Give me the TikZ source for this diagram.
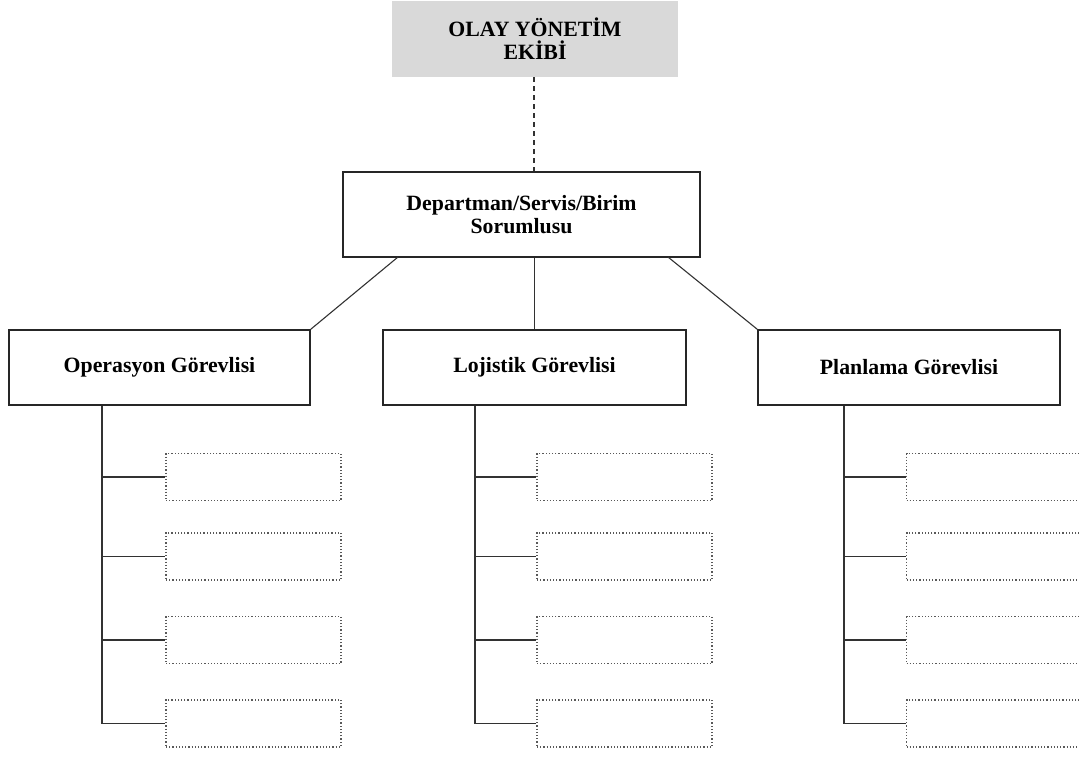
\documentclass[tikz,border=0pt]{standalone}
\usepackage{fontspec}
\setmainfont{Liberation Serif}
\usetikzlibrary{calc}
\definecolor{topfill}{RGB}{217,217,217}
\definecolor{linegray}{RGB}{50,50,50}
\tikzset{
  every node/.style={font=\bfseries\fontsize{21.8}{23}\selectfont, inner sep=0pt, align=center},
  topbox/.style={rectangle, fill=topfill, minimum width=286pt, minimum height=76pt},
  midbox/.style={rectangle, draw=black!85, line width=1.4pt, minimum width=357pt, minimum height=85pt},
  rolebox/.style={rectangle, draw=black!85, line width=1.4pt, minimum height=75pt},
  slotbox/.style={rectangle, draw=black!65, line width=1.2pt, dotted, minimum width=175pt, minimum height=47pt},
  conn/.style={draw=linegray, line width=1.5pt},
}
\begin{document}
\begin{tikzpicture}[x=1pt,y=-1pt]
\useasboundingbox (0,0) rectangle (1079,756);
\node[topbox] (top) at (535,39) {\fontsize{21.8}{22}\selectfont OLAY YÖNETİM\\EKİBİ};
\node[midbox] (mid) at (521.5,214.5) {\fontsize{21.8}{25}\selectfont Departman/Servis/Birim\\Sorumlusu};
\node[rolebox, minimum width=301pt] (op) at (159.5,367.5) {Operasyon Görevlisi};
\node[rolebox, minimum width=303pt] (lo) at (534.5,367.5) {Lojistik Görevlisi};
\node[rolebox, minimum width=302pt] (pl) at (909,367.5) {Planlama Görevlisi};

\draw[conn, line width=1.1pt, dash pattern=on 5pt off 4pt] (top.south -| 534,0) -- (mid.north -| 534,0);
\coordinate (mL) at (398,257);
\coordinate (mR) at (668,257);
\draw[conn, line width=1.1pt] (mL) -- (op.north east);
\draw[conn, line width=1.1pt] (mid.south -| lo.north) -- (lo.north);
\draw[conn, line width=1.1pt] (mR) -- (pl.north west);

% slots
\foreach \n/\y in {1/477, 2/556.5, 3/640, 4/723.5}{
  \node[slotbox] (op\n) at (253.5,\y) {};
  \node[slotbox] (lo\n) at (624.5,\y) {};
  \node[slotbox] (pl\n) at (994,\y) {};
}
\coordinate (opT) at (102,0);
\coordinate (loT) at (475,0);
\coordinate (plT) at (844,0);
\draw[conn] (op.south -| opT) -- (op4.west -| opT);
\draw[conn] (lo.south -| loT) -- (lo4.west -| loT);
\draw[conn] (pl.south -| plT) -- (pl4.west -| plT);
\foreach \n in {1,2,3,4}{
  \draw[conn] (op\n.west -| opT) -- (op\n.west);
  \draw[conn] (lo\n.west -| loT) -- (lo\n.west);
  \draw[conn] (pl\n.west -| plT) -- (pl\n.west);
}
\end{tikzpicture}
\end{document}
